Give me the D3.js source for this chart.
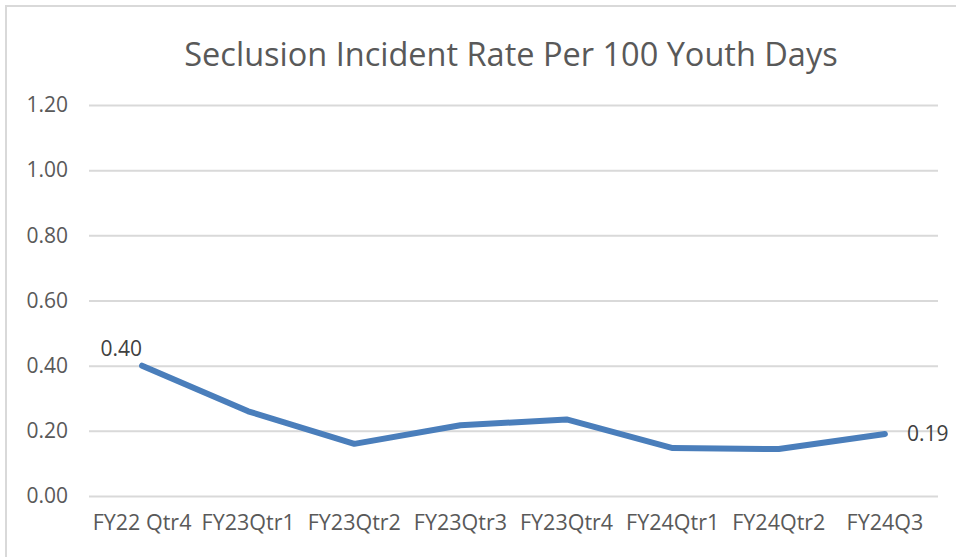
<!DOCTYPE html>
<html><head><meta charset="utf-8">
<script src="https://cdn.jsdelivr.net/npm/d3@7"></script>
<style>body{margin:0;background:#fff}svg{display:block}</style>
</head><body>
<script>
const categories = ["FY22 Qtr4","FY23Qtr1","FY23Qtr2","FY23Qtr3","FY23Qtr4","FY24Qtr1","FY24Qtr2","FY24Q3"];
const values = [0.40,0.26,0.16,0.217,0.235,0.147,0.144,0.19];
const yTicks = [0,0.2,0.4,0.6,0.8,1.0,1.2];
const title = "Seclusion Incident Rate Per 100 Youth Days";

(function(){
const W=956,H=557;
const svg=d3.select("body").append("svg").attr("width",W).attr("height",H);
const font="'Open Sans', sans-serif";
const txt="#595959";
svg.append("path").attr("d",`M6,${H} V6 H${W}`).attr("fill","none").attr("stroke","#d9d9d9").attr("stroke-width",2);

const pl=89,pr=938,pt=105,pb=496;
const x=d3.scaleBand().domain(categories).range([pl,pr]);
const y=d3.scaleLinear().domain([0,1.2]).range([pb,pt]);

const gy=svg.append("g").attr("transform",`translate(${pl},0)`)
  .call(d3.axisLeft(y).tickValues(yTicks).tickFormat(d3.format(".2f")).tickSize(-(pr-pl)).tickPadding(21));
gy.select(".domain").remove();
gy.selectAll(".tick line").attr("stroke","#d9d9d9").attr("stroke-width",2);
gy.selectAll(".tick text").attr("fill",txt).style("font-family",font).style("font-size","21px");

const gx=svg.append("g").attr("transform",`translate(0,${pb})`)
  .call(d3.axisBottom(x).tickSize(0).tickPadding(19));
gx.select(".domain").remove();
gx.selectAll(".tick text").attr("fill",txt).style("font-family",font).style("font-size","21.5px");

const line=d3.line().x((d,i)=>x(categories[i])+x.bandwidth()/2).y(d=>y(d));
svg.append("path").datum(values).attr("d",line).attr("fill","none")
  .attr("stroke","#4a7ebb").attr("stroke-width",6).attr("stroke-linejoin","round").attr("stroke-linecap","round");

const n=values.length;
svg.append("text").attr("x",x(categories[0])+x.bandwidth()/2).attr("y",y(values[0])-10)
  .attr("text-anchor","end").attr("fill","#404040").style("font-family",font).style("font-size","21px").text(values[0].toFixed(2));
svg.append("text").attr("x",x(categories[n-1])+x.bandwidth()/2+22).attr("y",y(values[n-1])).attr("dy","0.35em")
  .attr("text-anchor","start").attr("fill","#404040").style("font-family",font).style("font-size","21px").text(values[n-1].toFixed(2));

svg.append("text").attr("x",511).attr("y",66).attr("text-anchor","middle").attr("fill",txt)
  .style("font-family",font).style("font-size","32.5px").text(title);
})();
</script>
</body></html>
